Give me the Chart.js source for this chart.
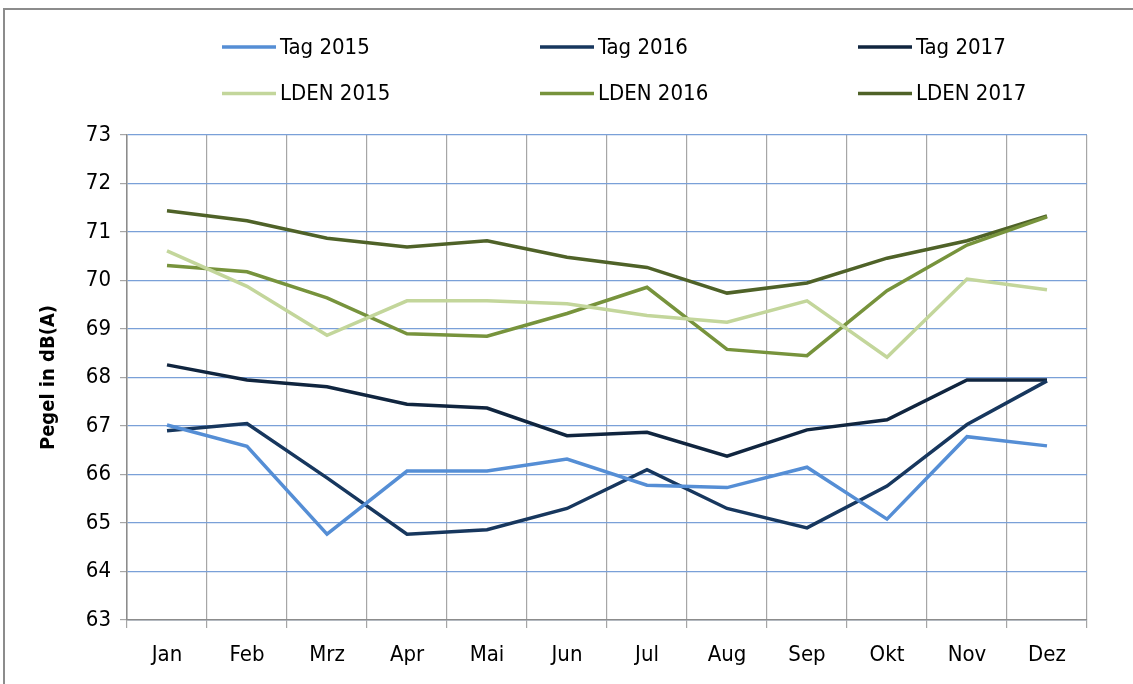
<!DOCTYPE html>
<html>
<head>
<meta charset="utf-8">
<title>Pegel</title>
<script src="https://cdn.jsdelivr.net/npm/chart.js@4.4.0/dist/chart.umd.min.js"></script>
<style>
	html, body { margin: 0; padding: 0; background: #fff; overflow: hidden; }
	#frame { position: absolute; left: 3px; top: 8px; width: 1150px; height: 700px; border: 2px solid #8c8c8c; }
	#pegelChart { position: absolute; left: 0; top: 0; }
</style>
</head>
<body>
<div id="frame"></div>
<canvas id="pegelChart" width="1133" height="684"></canvas>
<script>
// months (x axis)
const months = ['Jan', 'Feb', 'Mrz', 'Apr', 'Mai', 'Jun', 'Jul', 'Aug', 'Sep', 'Okt', 'Nov', 'Dez'];

// values, dB(A)
const tag2015  = [67.02, 66.58, 64.77, 66.07, 66.07, 66.32, 65.78, 65.73, 66.15, 65.08, 66.78, 66.59];
const tag2016  = [66.90, 67.05, 65.93, 64.77, 64.86, 65.30, 66.10, 65.30, 64.90, 65.76, 67.03, 67.93];
const tag2017  = [68.26, 67.95, 67.81, 67.45, 67.37, 66.80, 66.87, 66.38, 66.92, 67.13, 67.95, 67.95];
const lden2015 = [70.61, 69.88, 68.87, 69.58, 69.58, 69.52, 69.28, 69.14, 69.58, 68.42, 70.03, 69.81];
const lden2016 = [70.31, 70.18, 69.64, 68.90, 68.85, 69.32, 69.86, 68.58, 68.45, 69.79, 70.73, 71.31];
const lden2017 = [71.44, 71.23, 70.87, 70.69, 70.82, 70.48, 70.27, 69.74, 69.95, 70.46, 70.82, 71.33];

const seriesNames = ['Tag 2015', 'Tag 2016', 'Tag 2017', 'LDEN 2015', 'LDEN 2016', 'LDEN 2017'];
const seriesData = [tag2015, tag2016, tag2017, lden2015, lden2016, lden2017];
const seriesColors = ['#558ed5', '#17375e', '#10253f', '#c3d69b', '#77933c', '#4f6228'];

const yMin = 63;
const yMax = 73;

const FONT = "'Liberation Sans Narrow', 'DejaVu Sans Condensed', 'Liberation Sans', sans-serif";

// excel style legend: 3 columns, 2 rows, above the plot
const gridLegend = {
	id: 'gridLegend',
	afterDraw(chart) {
		let ctx = chart.ctx;
		ctx.save();
		ctx.font = '22px ' + FONT;
		ctx.textBaseline = 'middle';
		ctx.textAlign = 'left';
		chart.data.datasets.forEach((ds, i) => {
			let col = i % 3;
			let row = Math.floor(i / 3);
			let x0 = 222 + col * 318;
			let y = 47 + row * 46.5;
			ctx.strokeStyle = ds.borderColor;
			ctx.lineWidth = 3.5;
			ctx.beginPath();
			ctx.moveTo(x0, y);
			ctx.lineTo(x0 + 54, y);
			ctx.stroke();
			ctx.fillStyle = '#000';
			ctx.fillText(ds.label, x0 + 58, y + 1);
		});
		ctx.restore();
	}
};

function buildDatasets() {
	let sets = [];
	for (let i = 0; i < seriesNames.length; i++) {
		sets.push({
			label: seriesNames[i],
			data: seriesData[i],
			borderColor: seriesColors[i],
			backgroundColor: seriesColors[i],
			borderWidth: 3.5,
			pointRadius: 0,
			tension: 0,
			fill: false
		});
	}
	return sets;
}

const ctx = document.getElementById('pegelChart').getContext('2d');
const chart = new Chart(ctx, {
	type: 'line',
	data: {
		labels: months,
		datasets: buildDatasets()
	},
	plugins: [gridLegend],
	options: {
		responsive: false,
		animation: false,
		layout: {
			padding: { left: 33, top: 135, right: 46, bottom: 0 }
		},
		plugins: {
			legend: { display: false },
			tooltip: { enabled: false }
		},
		scales: {
			x: {
				offset: true,
				grid: {
					offset: true,
					color: '#a6a6a6',
					lineWidth: 1.2,
					tickLength: 8,
					tickColor: '#a6a6a6'
				},
				border: { color: '#8c8c8c', width: 1.5 },
				ticks: {
					color: '#000',
					font: { family: FONT, size: 22 },
					padding: 14,
					maxRotation: 0
				},
				afterFit(scale) { scale.height = 64; }
			},
			y: {
				min: yMin,
				max: yMax,
				grid: {
					color: '#7aa0d8',
					lineWidth: 1.2,
					tickLength: 7,
					tickColor: '#a6a6a6'
				},
				border: { color: '#8c8c8c', width: 1.5 },
				ticks: {
					stepSize: 1,
					color: '#000',
					font: { family: FONT, size: 22 },
					padding: 9
				},
				title: {
					display: true,
					text: 'Pegel in dB(A)',
					color: '#000',
					font: { family: FONT, size: 20, weight: 'bold' },
					padding: { top: 4, bottom: 0 }
				},
				afterFit(scale) { scale.width = 94; }
			}
		}
	}
});
</script>
</body>
</html>
